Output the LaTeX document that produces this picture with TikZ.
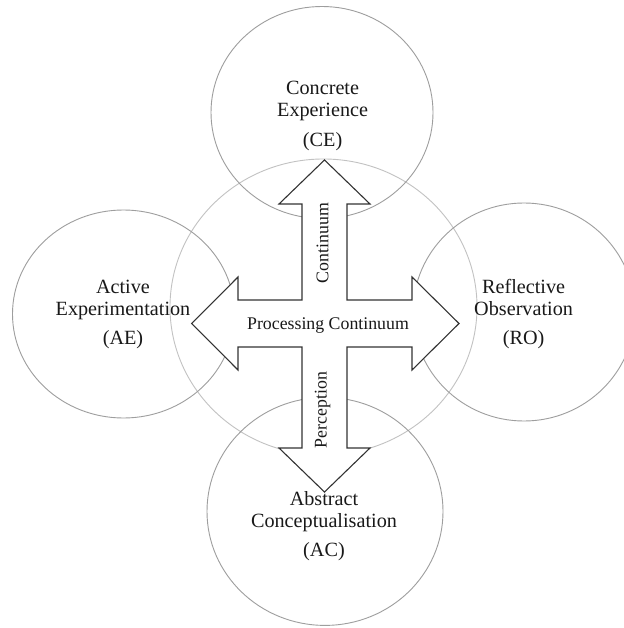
\documentclass[tikz,border=0pt]{standalone}
\usepackage{fontspec}
\setmainfont{Liberation Serif}
\usetikzlibrary{shapes.geometric}
\begin{document}
\begin{tikzpicture}[x=1pt,y=-1pt,
  ring/.style={ellipse, draw=black!38, line width=0.9pt, inner sep=0pt},
  midring/.style={ellipse, draw=black!24, line width=0.9pt, inner sep=0pt},
  lbl/.style={anchor=base, inner sep=0pt, font=\fontsize{20.2}{22}\selectfont, text=black!90},
  alabel/.style={inner sep=0pt, font=\fontsize{17.8}{20}\selectfont, text=black!90},
  crossarrow/.style={draw=black!80, fill=white, line width=1.1pt, line join=miter}]
\useasboundingbox (0,0) rectangle (623,628);
\fill[white] (0,0) rectangle (623,628);
% circles
\node[midring, minimum width=307pt, minimum height=296pt] (mid) at (323.5,307) {};
\node[ring, minimum width=222pt, minimum height=212pt] (ce) at (322,112.5) {};
\node[ring, minimum width=222pt, minimum height=208pt] (ae) at (123.5,314) {};
\node[ring, minimum width=222pt, minimum height=218pt] (ro) at (524,312) {};
\node[ring, minimum width=236pt, minimum height=228pt] (ac) at (325,511.4) {};
% cross arrow
\draw[crossarrow]
  (302,300) -- (302,204) -- (279,204) -- (324.5,160) -- (370,204) -- (347,204) -- (347,300)
  -- (412,300) -- (412,277) -- (459,323.5) -- (412,370) -- (412,347)
  -- (347,347) -- (347,448) -- (370,448) -- (324.5,492) -- (279,448) -- (302,448) -- (302,347)
  -- (238,347) -- (238,370) -- (191.7,323.5) -- (238,277) -- (238,300) -- cycle;
% arrow labels
\node[alabel, anchor=base] (proc) at (328,329) {Processing Continuum};
\node[alabel, rotate=90] (cont) at (322.5,243) {Continuum};
\node[alabel, rotate=90] (perc) at (322.5,410) {Perception};
% circle labels
\node[lbl] (ce1) at (322.6,94.5) {Concrete};
\node[lbl] (ce2) at (322.6,116.5) {Experience};
\node[lbl] (ce3) at (322.6,146.5) {(CE)};
\node[lbl] (ae1) at (123,293.5) {Active};
\node[lbl] (ae2) at (123,315) {Experimentation};
\node[lbl] (ae3) at (123,344.5) {(AE)};
\node[lbl] (ro1) at (523.6,293.5) {Reflective};
\node[lbl] (ro2) at (523.6,315) {Observation};
\node[lbl] (ro3) at (523.6,344.5) {(RO)};
\node[lbl] (ac1) at (324,505) {Abstract};
\node[lbl] (ac2) at (324,527) {Conceptualisation};
\node[lbl] (ac3) at (324,556.5) {(AC)};
\end{tikzpicture}
\end{document}
